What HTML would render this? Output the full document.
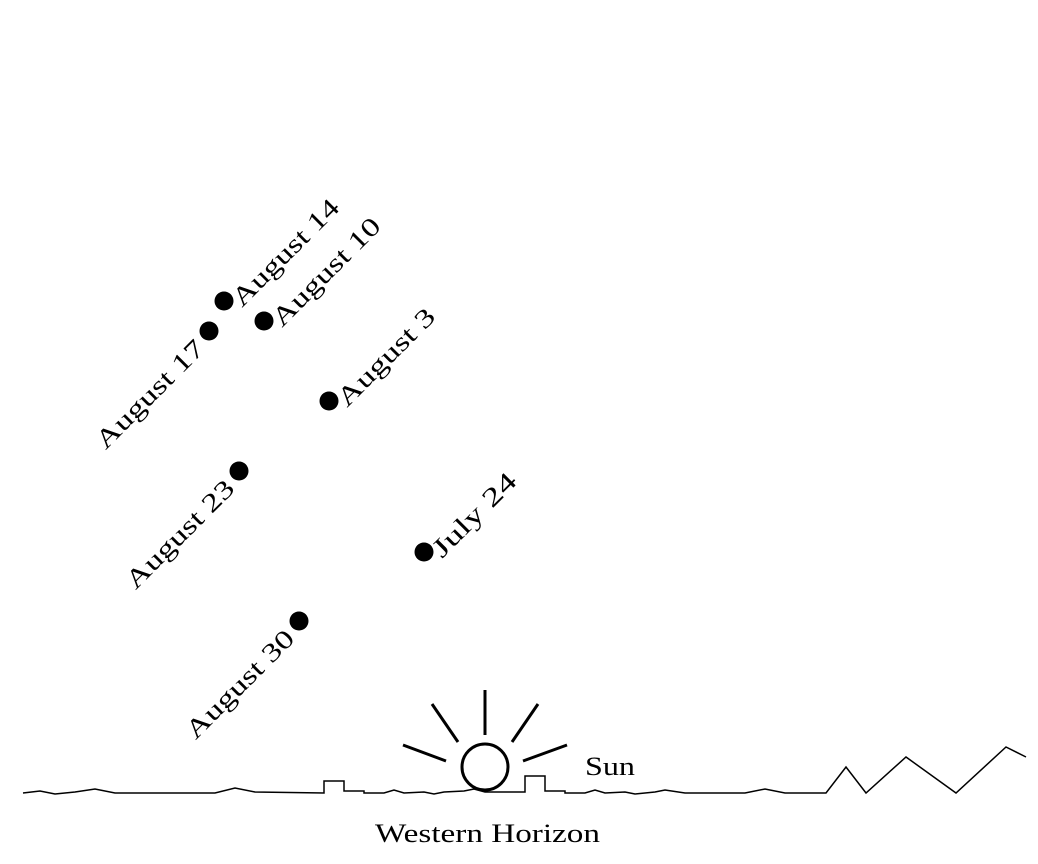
<!DOCTYPE html>
<html><head><style>html,body{margin:0;padding:0;background:#fff}svg{display:block}</style></head>
<body>
<svg width="1038" height="864" viewBox="0 0 1038 864" xmlns="http://www.w3.org/2000/svg">
<g fill="#000">
<circle cx="224" cy="301" r="9.5"/>
<circle cx="264" cy="321" r="9.5"/>
<circle cx="209" cy="331" r="9.5"/>
<circle cx="329" cy="401" r="9.5"/>
<circle cx="239" cy="471" r="9.5"/>
<circle cx="424" cy="552" r="9.5"/>
<circle cx="299" cy="621" r="9.5"/>
</g>
<g font-family="Liberation Serif, serif" font-size="26" fill="#000">
<text transform="translate(242,308) rotate(-45)" textLength="140" lengthAdjust="spacingAndGlyphs">August 14</text>
<text transform="translate(282,328) rotate(-45)" textLength="142" lengthAdjust="spacingAndGlyphs">August 10</text>
<text transform="translate(347,408) rotate(-45)" textLength="127" lengthAdjust="spacingAndGlyphs">August 3</text>
<text transform="translate(442,559) rotate(-45)" textLength="108" lengthAdjust="spacingAndGlyphs">July 24</text>
<text transform="translate(206,350) rotate(-45)" text-anchor="end" textLength="142" lengthAdjust="spacingAndGlyphs">August 17</text>
<text transform="translate(236,490) rotate(-45)" text-anchor="end" textLength="142" lengthAdjust="spacingAndGlyphs">August 23</text>
<text transform="translate(296,640) rotate(-45)" text-anchor="end" textLength="142" lengthAdjust="spacingAndGlyphs">August 30</text>
<text x="585" y="775" textLength="50" lengthAdjust="spacingAndGlyphs">Sun</text>
<text x="375" y="842" textLength="225" lengthAdjust="spacingAndGlyphs">Western Horizon</text>
</g>
<g stroke="#000" stroke-width="3" fill="none">
<circle cx="485" cy="767" r="23"/>
<line x1="485" y1="690" x2="485" y2="735"/>
<line x1="432" y1="704" x2="458" y2="742"/>
<line x1="538" y1="704" x2="512" y2="742"/>
<line x1="403" y1="745" x2="446" y2="761"/>
<line x1="567" y1="745" x2="523" y2="761"/>
</g>
<polyline fill="none" stroke="#000" stroke-width="1.5" points="23,793 40,791 55,794 75,792 95,789 115,793 215,793 235,788 255,792 324,793 324,781 344,781 344,791 364,791 364,793 384,793 394,790 404,793 424,792 434,794 444,792 464,791 474,789 485,792 525,792 525,776 545,776 545,791 565,791 565,793 585,793 595,790 605,793 625,792 635,794 655,792 665,790 685,793 745,793 765,789 785,793 826,793 846,767 866,793 906,757 956,793 1006,747 1026,757"/>
</svg>
</body></html>
